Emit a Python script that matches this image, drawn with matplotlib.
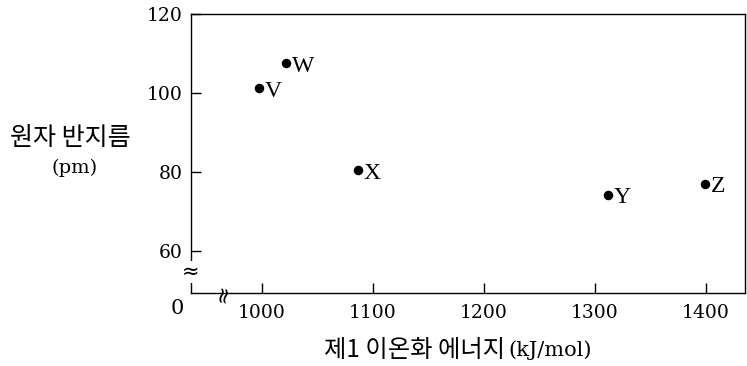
import matplotlib
matplotlib.use("Agg")
import matplotlib.pyplot as plt

# data
elements = ["V", "W", "X", "Y", "Z"]
ionization_energy = [997, 1022, 1086, 1312, 1399]
atomic_radius = [101.2, 107.5, 80.4, 74.2, 77.1]
x_ticks = [1000, 1100, 1200, 1300, 1400]
y_ticks = [60, 80, 100, 120]

serif = ["DejaVu Serif"]
letters = ["Liberation Serif", "DejaVu Serif"]
korean = ["Noto Sans CJK KR", "DejaVu Sans"]

fig = plt.figure(figsize=(7.47, 3.66), dpi=100)
ax = fig.add_axes([0.2557, 0.1995, 0.7416, 0.7622])

ax.scatter(ionization_energy, atomic_radius, s=34, color="black", zorder=3)
for name, xv, yv in zip(elements, ionization_energy, atomic_radius):
    ax.annotate(name, (xv, yv), xytext=(4, -2), textcoords="offset points",
                ha="left", va="center", fontsize=17, family=letters)

ax.set_xlim(936, 1435)
ax.set_ylim(49.4, 120)
ax.set_xticks(x_ticks)
ax.set_yticks(y_ticks)
ax.tick_params(direction="in", length=7, width=1, labelsize=13.5)
ax.tick_params(axis="x", pad=8)
ax.tick_params(axis="y", pad=6)
for lab in ax.get_xticklabels() + ax.get_yticklabels():
    lab.set_family(serif)
for sp in ax.spines.values():
    sp.set_linewidth(1)

# axis breaks and the shared zero
ax.text(0, 0.075, "≈", transform=ax.transAxes, ha="center", va="center",
        fontsize=15, family="DejaVu Sans",
        bbox=dict(facecolor="white", edgecolor="none", pad=0.5))
ax.text(0.058, 0, "≈", transform=ax.transAxes, ha="center", va="center",
        fontsize=16, rotation=80, family="DejaVu Sans")
ax.text(-0.012, -0.02, "0", transform=ax.transAxes, ha="right", va="top",
        fontsize=15, family=serif)

fig.text(0.094, 0.623, "원자 반지름", ha="center", va="center",
         fontsize=18, family=korean)
fig.text(0.1, 0.541, "(pm)", ha="center", va="center",
         fontsize=14, family=serif)
fig.text(0.676, 0.044, "제1 이온화 에너지", ha="right", va="center",
         fontsize=17.5, family=korean)
fig.text(0.681, 0.044, "(kJ/mol)", ha="left", va="center",
         fontsize=15, family=serif)

plt.savefig("out.png", dpi=100)
